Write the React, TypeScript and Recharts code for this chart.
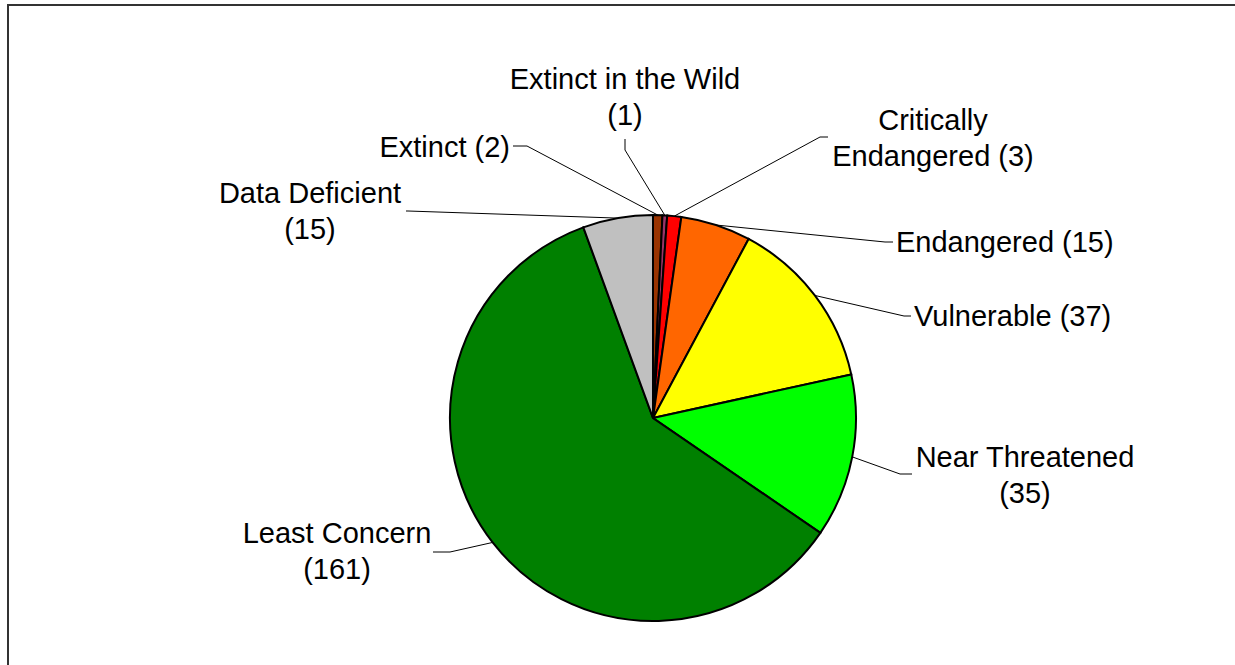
import { PieChart, Pie, Cell } from "recharts"

const categories = [
  "Extinct",
  "Extinct in the Wild",
  "Critically Endangered",
  "Endangered",
  "Vulnerable",
  "Near Threatened",
  "Least Concern",
  "Data Deficient",
]
const counts = [2, 1, 3, 15, 37, 35, 161, 15]
const colors = ["#993300", "#993366", "#ff0000", "#ff6600", "#ffff00", "#00ff00", "#008000", "#c0c0c0"]
const labelLines = [
  ["Extinct (2)"],
  ["Extinct in the Wild", "(1)"],
  ["Critically", "Endangered (3)"],
  ["Endangered (15)"],
  ["Vulnerable (37)"],
  ["Near Threatened", "(35)"],
  ["Least Concern", "(161)"],
  ["Data Deficient", "(15)"],
]

// where each label sits (Excel placed these by hand)
const labelLayout = [
  { x: 510, y: 157, anchor: "end", elbow: [527, 146], end: [513, 146] },
  { x: 625, y: 89, anchor: "middle", elbow: [625, 150], end: [625, 139] },
  { x: 933, y: 130, anchor: "middle", elbow: [820, 137], end: [828, 137] },
  { x: 896, y: 252, anchor: "start", elbow: [885, 242], end: [893, 242] },
  { x: 914, y: 326, anchor: "start", elbow: [904, 316], end: [911, 316] },
  { x: 1025, y: 467, anchor: "middle", elbow: [900, 474], end: [912, 474] },
  { x: 337, y: 543, anchor: "middle", elbow: [450, 552], end: [433, 552] },
  { x: 310, y: 203, anchor: "middle", elbow: [408, 211], end: [406, 211] },
]

const data = categories.map((name, i) => ({ name, value: counts[i] }))

const RADIAN = Math.PI / 180
const LINE_GAP = 36

function renderLabel(props: any) {
  const { cx, cy, midAngle, outerRadius, index } = props
  const lay = labelLayout[index]
  const px = cx + outerRadius * Math.cos(-midAngle * RADIAN)
  const py = cy + outerRadius * Math.sin(-midAngle * RADIAN)
  return (
    <g key={`lbl-${index}`}>
      <polyline
        points={`${px},${py} ${lay.elbow[0]},${lay.elbow[1]} ${lay.end[0]},${lay.end[1]}`}
        fill="none"
        stroke="#000"
        strokeWidth={1}
      />
      <text
        x={lay.x}
        y={lay.y}
        textAnchor={lay.anchor}
        fontFamily="'Liberation Sans', Arial, sans-serif"
        fontSize={29}
        fill="#000"
      >
        {labelLines[index].map((t, j) => (
          <tspan key={j} x={lay.x} y={lay.y + j * LINE_GAP}>
            {t}
          </tspan>
        ))}
      </text>
    </g>
  )
}

export default function App() {
  return (
    <div style={{ position: "absolute", left: 0, top: 0, width: 1235, height: 665, overflow: "hidden", background: "#fff" }}>
      <div
        style={{
          position: "absolute",
          left: 7,
          top: 4,
          width: 1300,
          height: 700,
          border: "2px solid #333",
        }}
      />
      <div style={{ position: "absolute", left: 0, top: 0 }}>
        <PieChart width={1235} height={665} margin={{ top: 0, right: 0, bottom: 0, left: 0 }}>
          <Pie
            data={data}
            dataKey="value"
            nameKey="name"
            cx={653}
            cy={418}
            outerRadius={203}
            startAngle={90}
            endAngle={-270}
            stroke="#000"
            strokeWidth={2}
            label={renderLabel}
            labelLine={false}
            isAnimationActive={false}
          >
            {data.map((d, i) => (
              <Cell key={d.name} fill={colors[i]} />
            ))}
          </Pie>
        </PieChart>
      </div>
    </div>
  )
}
